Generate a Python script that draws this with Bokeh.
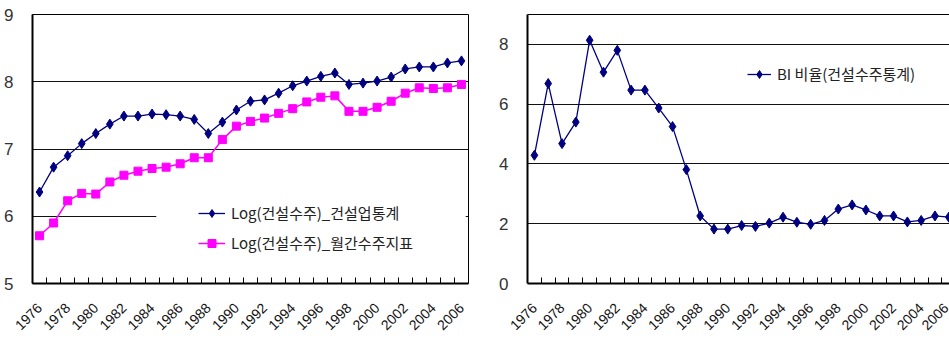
from math import pi

from bokeh.plotting import figure
from bokeh.layouts import row
from bokeh.models import (Range1d, FixedTicker, LinearAxis, Legend, LegendItem,
                          BoxAnnotation, ColumnDataSource)
from bokeh.embed import file_html
from bokeh.resources import INLINE

# ---- data -------------------------------------------------------------
years = list(range(1976, 2007))

log_orders_industry = [6.36, 6.73, 6.90, 7.08, 7.23, 7.37, 7.49, 7.49, 7.52, 7.51,
                       7.49, 7.44, 7.23, 7.40, 7.58, 7.71, 7.73, 7.83, 7.94, 8.01,
                       8.08, 8.13, 7.96, 7.98, 8.01, 8.07, 8.19, 8.22, 8.22, 8.28,
                       8.31]

log_orders_monthly = [5.71, 5.90, 6.23, 6.34, 6.33, 6.51, 6.61, 6.67, 6.71, 6.73,
                      6.78, 6.87, 6.87, 7.14, 7.34, 7.41, 7.46, 7.53, 7.60, 7.70,
                      7.77, 7.79, 7.56, 7.56, 7.62, 7.71, 7.83, 7.91, 7.90, 7.91,
                      7.96]

bi_ratio = [4.29, 6.69, 4.68, 5.40, 8.14, 7.07, 7.80, 6.47, 6.47, 5.87,
            5.25, 3.81, 2.26, 1.82, 1.82, 1.94, 1.91, 2.02, 2.22, 2.05,
            1.98, 2.11, 2.49, 2.63, 2.46, 2.26, 2.26, 2.06, 2.11, 2.26,
            2.22]

label_years = list(range(1976, 2007, 2))
left_y_ticks = [5, 6, 7, 8, 9]
right_y_ticks = [0, 2, 4, 6, 8]

legend_industry = "Log(건설수주)_건설업통계"
legend_monthly = "Log(건설수주)_월간수주지표"
legend_bi = "BI 비율(건설수주통계)"

# ---- styling ----------------------------------------------------------
NAVY = "#000080"
MAGENTA = "#FF00FF"
LATIN_FONT = "Liberation Sans"
KR_FONT = "Noto Sans CJK KR"

source = ColumnDataSource(dict(year=years,
                               industry=log_orders_industry,
                               monthly=log_orders_monthly,
                               bi=bi_ratio))

# category boundaries between consecutive years carry the small inward ticks
boundaries = [y + 0.5 for y in years[:-1]]


def style_axes(p, y_ticks):
    p.xaxis.ticker = FixedTicker(ticks=label_years, minor_ticks=boundaries)
    p.xaxis.major_tick_line_color = None
    p.xaxis.minor_tick_in = 6
    p.xaxis.minor_tick_out = 0
    p.xaxis.minor_tick_line_color = "black"
    p.xaxis.major_label_orientation = pi / 4
    p.xaxis.major_label_standoff = 16
    p.xaxis.major_label_text_font = LATIN_FONT
    p.xaxis.major_label_text_font_size = "14px"
    p.xaxis.major_label_text_color = "#111111"
    p.xaxis.axis_line_color = "black"
    p.xaxis.axis_line_width = 2

    p.yaxis.ticker = FixedTicker(ticks=y_ticks)
    p.yaxis.major_tick_line_color = None
    p.yaxis.minor_tick_line_color = None
    p.yaxis.major_label_standoff = 13
    p.yaxis.major_label_text_font = LATIN_FONT
    p.yaxis.major_label_text_font_size = "17px"
    p.yaxis.major_label_text_color = "#333333"
    p.yaxis.axis_line_color = "black"
    p.yaxis.axis_line_width = 2

    p.xgrid.grid_line_color = None
    p.ygrid.grid_line_color = "#111111"
    p.ygrid.grid_line_width = 1
    p.background_fill_color = "white"
    p.border_fill_color = "white"


# ---- left panel: log of construction orders ------------------------------
p1 = figure(width=480, height=341,
            x_range=Range1d(1975.5, 2006.5), y_range=Range1d(5, 9),
            output_backend="svg", toolbar_location=None,
            min_border_left=32, min_border_right=12,
            min_border_top=14, min_border_bottom=58)
style_axes(p1, left_y_ticks)
p1.outline_line_color = "black"
p1.outline_line_width = 1

# white patch behind the legend hides that stretch of the gridline at 6
p1.add_layout(BoxAnnotation(left=1984.3, right=2006.3, bottom=5.85, top=6.15,
                            fill_color="white", fill_alpha=1.0,
                            line_color=None, level="underlay"))

l_ind = p1.line("year", "industry", source=source, line_color=NAVY, line_width=1.3)
m_ind = p1.scatter("year", "industry", source=source, marker="diamond", size=10,
                   fill_color=NAVY, line_color=NAVY)
l_mon = p1.line("year", "monthly", source=source, line_color=MAGENTA, line_width=1.5)
m_mon = p1.scatter("year", "monthly", source=source, marker="square", size=8,
                   fill_color=MAGENTA, line_color=MAGENTA)

leg1 = Legend(items=[LegendItem(label=legend_industry, renderers=[l_ind, m_ind]),
                     LegendItem(label=legend_monthly, renderers=[l_mon, m_mon])],
              location=(166, 30))
p1.add_layout(leg1, "center")

# ---- right panel: BI ratio --------------------------------------------
p2 = figure(width=469, height=341,
            x_range=Range1d(1975.5, 2006.05), y_range=Range1d(0, 9),
            output_backend="svg", toolbar_location=None,
            min_border_left=47, min_border_right=0,
            min_border_top=14, min_border_bottom=58)
style_axes(p2, right_y_ticks)
p2.outline_line_color = None

# plain top border line
top_border = LinearAxis(ticker=FixedTicker(ticks=[]), major_label_text_font_size="0px",
                        major_tick_line_color=None, minor_tick_line_color=None,
                        axis_line_color="black", axis_line_width=1)
p2.add_layout(top_border, "above")

l_bi = p2.line("year", "bi", source=source, line_color=NAVY, line_width=1.3)
m_bi = p2.scatter("year", "bi", source=source, marker="diamond", size=10,
                  fill_color=NAVY, line_color=NAVY)

leg2 = Legend(items=[LegendItem(label=legend_bi, renderers=[l_bi, m_bi])],
              location=(220, 199))
p2.add_layout(leg2, "center")

for leg, w in ((leg1, 27), (leg2, 24)):
    leg.background_fill_alpha = 0
    leg.border_line_color = None
    leg.padding = 0
    leg.margin = 0
    leg.spacing = 9
    leg.glyph_width = w
    leg.glyph_height = 20
    leg.label_height = 20
    leg.label_standoff = 6
    leg.label_text_font = KR_FONT
    leg.label_text_font_size = "15px"
    leg.label_text_color = "#222222"

layout = row(p1, p2)

open("out.html", "w").write(file_html(layout, INLINE))
